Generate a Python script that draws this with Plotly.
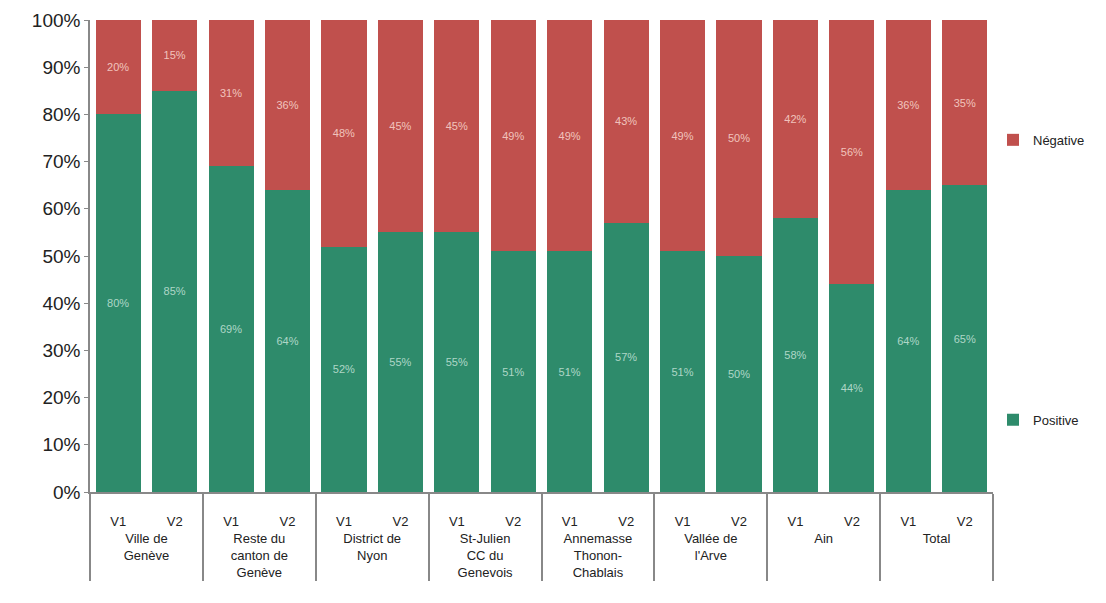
import plotly.graph_objects as go

regions = ["Ville de<br>Genève", "Reste du<br>canton de<br>Genève", "District de<br>Nyon",
           "St-Julien<br>CC du<br>Genevois", "Annemasse<br>Thonon-<br>Chablais",
           "Vallée de<br>l'Arve", "Ain", "Total"]
versions = ["V1", "V2"]
positive = [0.80, 0.85, 0.69, 0.64, 0.52, 0.55, 0.55, 0.51, 0.51, 0.57, 0.51, 0.50, 0.58, 0.44, 0.64, 0.65]
negative = [0.20, 0.15, 0.31, 0.36, 0.48, 0.45, 0.45, 0.49, 0.49, 0.43, 0.49, 0.50, 0.42, 0.56, 0.36, 0.35]

# a leading blank line pushes the tick labels down, as in the reference
xg = ["<br>" + r for r in regions for _ in versions]
xv = ["<br>" + v for _ in regions for v in versions]

green = "#2E8B6B"
red = "#C0504D"

fig = go.Figure()
fig.add_trace(go.Bar(
    x=[xg, xv], y=positive, name="Positive", marker_color=green,
    marker_line_width=0, showlegend=True,
    texttemplate="%{y:.0%}", textposition="inside", insidetextanchor="middle",
    textfont=dict(size=11, color="rgba(220,240,230,0.75)", family="Liberation Sans"),
    legend="legend2"))
fig.add_trace(go.Bar(
    x=[xg, xv], y=negative, name="Négative", marker_color=red,
    marker_line_width=0, showlegend=True,
    texttemplate="%{y:.0%}", textposition="inside", insidetextanchor="middle",
    textfont=dict(size=11, color="rgba(255,225,220,0.8)", family="Liberation Sans"),
    legend="legend"))

fig.update_layout(
    width=1106, height=603,
    barmode="stack", bargap=0.2,
    plot_bgcolor="white", paper_bgcolor="white",
    margin=dict(l=82, r=121, t=12, b=119, autoexpand=False),
    font=dict(family="Liberation Sans", color="#222"),
    uniformtext=dict(minsize=10, mode="show"),
    showlegend=True,
    legend=dict(x=1.0, xanchor="left", y=0.746, yanchor="middle", visible=True,
                itemwidth=30, font=dict(size=13, color="#222"), bgcolor="rgba(0,0,0,0)"),
    legend2=dict(x=1.0, xanchor="left", y=0.153, yanchor="middle", visible=True,
                 itemwidth=30, font=dict(size=13, color="#222"), bgcolor="rgba(0,0,0,0)"),
)
fig.update_yaxes(range=[0, 1], dtick=0.1, tickformat=".0%", showgrid=False,
                 showline=True, linecolor="#888", linewidth=1.5,
                 ticks="outside", ticklen=4, tickcolor="#888", automargin=False,
                 tickfont=dict(size=19, color="#222"), zeroline=False)
fig.update_xaxes(showline=True, linecolor="#888", linewidth=1.5, automargin=False,
                 showdividers=True, dividercolor="#888", dividerwidth=1.5,
                 tickfont=dict(size=13, color="#222"), ticks="")

fig.write_html("out.html")
